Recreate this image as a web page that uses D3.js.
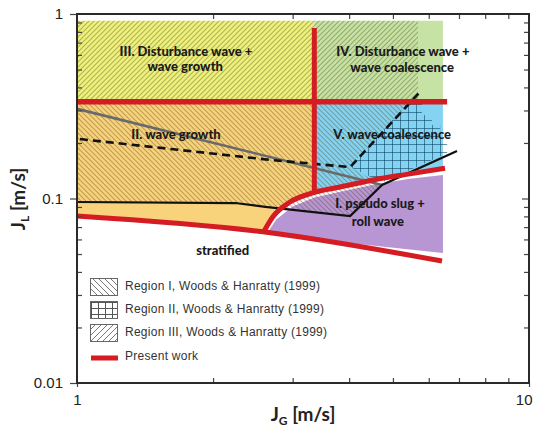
<!DOCTYPE html>
<html><head><meta charset="utf-8">
<script src="https://cdn.jsdelivr.net/npm/d3@7"></script>
<style>body{margin:0;background:#fff}svg{display:block}</style>
</head><body>
<svg id="c" width="535" height="435"></svg>
<script>
// ---- data (JG [m/s], JL [m/s]) ----
const xTicks = [1, 10];
const yTicks = [0.01, 0.1, 1];
const xMinor = [2,3,4,5,6,7,8,9];
const yMinor = [0.02,0.03,0.04,0.05,0.06,0.07,0.08,0.09,0.2,0.3,0.4,0.5,0.6,0.7,0.8,0.9];

const regionYellow = [[1,0.335],[3.35,0.335],[3.35,0.92],[1,0.92]];
const regionGreen  = [[3.35,0.335],[6.45,0.335],[6.45,0.92],[3.35,0.92]];
const regionOrange = [[1,0.335],[3.35,0.335],[3.35,0.107],[3.31,0.107],[2.96,0.0957],[2.71,0.0794],[2.58,0.065],[1,0.0804]];
const regionBlue   = [[3.35,0.335],[6.45,0.335],[6.45,0.145],[5.45,0.136],[4.52,0.126],[3.82,0.1154],[3.35,0.107]];
const regionPurple = [[2.64,0.0655],[2.76,0.077],[3.0,0.0905],[3.35,0.1012],[3.85,0.109],[4.55,0.119],[5.45,0.128],[6.45,0.134],[6.45,0.0507],[2.75,0.0632]];

const hatchI   = [[1,0.335],[5.48,0.335],[4.02,0.148],[4.73,0.1184],[4.02,0.0804],[2.61,0.09],[2.24,0.0945],[1,0.0957]];
const hatchII  = [[4.02,0.148],[5.40,0.329],[5.80,0.329],[5.80,0.2835],[6.10,0.2835],[6.10,0.25],[6.36,0.25],[6.36,0.213],[6.59,0.213],[6.59,0.176],[4.73,0.122]];
const hatchIII = [[1,0.335],[5.68,0.335],[5.68,0.92],[1,0.92]];

const grayLine   = [[1,0.306],[4.73,0.1184]];
const dashedLine = [[1.015,0.21],[2.67,0.162],[4.02,0.148],[5.74,0.378]];
const blackLine  = [[1,0.0957],[2.24,0.0945],[2.61,0.09],[4.02,0.0804],[4.73,0.1184],[6.93,0.181]];

const redHoriz = [[1,0.335],[6.59,0.335]];
const redVert  = [[3.35,0.84],[3.35,0.107]];
const redCurve = [[2.58,0.065],[2.71,0.0794],[2.96,0.0957],[3.31,0.107],[3.82,0.1154],[4.52,0.126],[5.45,0.136],[6.52,0.146]];
const redLower = [[1,0.0804],[2.58,0.066],[6.42,0.0458]];

const labels = [
  {t:"III. Disturbance wave +", x:1.742, y:0.615},
  {t:"wave growth", x:1.735, y:0.51},
  {t:"II. wave growth", x:1.656, y:0.218},
  {t:"IV. Disturbance wave +", x:5.26, y:0.615},
  {t:"wave coalescence", x:5.24, y:0.503},
  {t:"V. wave coalescence", x:4.98, y:0.218},
  {t:"I. pseudo slug +", x:4.68, y:0.0922},
  {t:"roll wave", x:4.63, y:0.0737},
  {t:"stratified", x:2.10, y:0.0513}
];
const legendItems = [
  {t:"Region I, Woods & Hanratty (1999)", p:"lgI", w:195},
  {t:"Region II, Woods & Hanratty (1999)", p:"lgII", w:199},
  {t:"Region III, Woods & Hanratty (1999)", p:"lgIII", w:202},
  {t:"Present work", p:"red", w:73}
];

// ---- drawing ----
const svg = d3.select("#c");
const x = d3.scaleLog().domain([1,10]).range([77,529]);
const y = d3.scaleLog().domain([0.01,1]).range([383,14]);
const line = d3.line().x(d=>x(d[0])).y(d=>y(d[1]));
const poly = pts => line(pts) + "Z";

const defs = svg.append("defs");
function hatch(id, d, size, stroke, sw){
  const p = defs.append("pattern").attr("id",id).attr("patternUnits","userSpaceOnUse")
    .attr("width",size).attr("height",size);
  p.append("path").attr("d",d).attr("stroke",stroke).attr("stroke-width",sw).attr("fill","none");
}
const s=5;
const back = `M0,0L${s},${s}M-1,${s-1}L1,${s+1}M${s-1},-1L${s+1},1`;
const fwd  = `M0,${s}L${s},0M-1,1L1,-1M${s-1},${s+1}L${s+1},${s-1}`;
hatch("hI", back, 5, "rgba(80,65,20,0.36)", 1.15);
hatch("hIII", fwd, 5, "rgba(80,75,20,0.38)", 1.15);
defs.append("pattern").attr("id","hII").attr("patternUnits","userSpaceOnUse").attr("width",8).attr("height",8)
  .append("path").attr("d","M0,0.5H8M0.5,0V8").attr("stroke","rgba(10,70,100,0.6)").attr("stroke-width",1).attr("fill","none");
const l=6;
hatch("lgI", `M0,0L${l},${l}M-1,${l-1}L1,${l+1}M${l-1},-1L${l+1},1`, l, "#777", 1);
hatch("lgIII", `M0,${l}L${l},0M-1,1L1,-1M${l-1},${l+1}L${l+1},${l-1}`, l, "#777", 1);
defs.append("pattern").attr("id","lgII").attr("patternUnits","userSpaceOnUse").attr("width",7).attr("height",6)
  .attr("x",91).attr("y",302)
  .append("path").attr("d","M0,0.5H7M0.5,0V6").attr("stroke","#555").attr("stroke-width",1).attr("fill","none");

const g = svg.append("g");
g.append("path").attr("d",poly(regionYellow)).attr("fill","#eef27c");
g.append("path").attr("d",poly(regionGreen)).attr("fill","#c6e2a4");
g.append("path").attr("d",poly(regionOrange)).attr("fill","#f9d27c");
g.append("path").attr("d",poly(regionBlue)).attr("fill","#84d3f2");
g.append("path").attr("d",poly(regionPurple)).attr("fill","#b896d4");

g.append("path").attr("d",poly(hatchIII)).attr("fill","url(#hIII)");
g.append("path").attr("d",poly(hatchI)).attr("fill","url(#hI)");
g.append("path").attr("d",poly(hatchII)).attr("fill","url(#hII)");

g.append("path").attr("d",line(grayLine)).attr("fill","none").attr("stroke","#6a6a6a").attr("stroke-width",2.6);
g.append("path").attr("d",line(dashedLine)).attr("fill","none").attr("stroke","#111").attr("stroke-width",2.6).attr("stroke-dasharray","8,5");
g.append("path").attr("d",line(blackLine)).attr("fill","none").attr("stroke","#111").attr("stroke-width",2.2);

const red = "#d41c22";
const curveLine = d3.line().x(d=>x(d[0])).y(d=>y(d[1])).curve(d3.curveMonotoneX);
g.append("path").attr("d",line(redHoriz)).attr("fill","none").attr("stroke",red).attr("stroke-width",5.5);
g.append("path").attr("d",line(redVert)).attr("fill","none").attr("stroke",red).attr("stroke-width",5);
g.append("path").attr("d",curveLine(redCurve)).attr("fill","none").attr("stroke",red).attr("stroke-width",5);
g.append("path").attr("d",curveLine(redLower)).attr("fill","none").attr("stroke",red).attr("stroke-width",5);

// labels
svg.append("g").selectAll("text").data(labels).join("text")
  .attr("x",d=>x(d.x)).attr("y",d=>y(d.y)).attr("text-anchor","middle").attr("dominant-baseline","middle")
  .attr("font-family","Lato, 'Liberation Sans', sans-serif").attr("font-weight","900").attr("font-size",13)
  .attr("fill","#1a1a1a").text(d=>d.t);

// legend
const lg = svg.append("g");
legendItems.forEach((d,i)=>{
  const yy = [287,310,333,357][i];
  if(d.p==="red"){
    lg.append("line").attr("x1",91).attr("x2",118).attr("y1",yy+1).attr("y2",yy+1).attr("stroke",red).attr("stroke-width",5);
  } else {
    lg.append("rect").attr("x",90.5).attr("y",yy-8.5).attr("width",27).attr("height",17)
      .attr("fill",`url(#${d.p})`).attr("stroke","#666").attr("stroke-width",1);
  }
  lg.append("text").attr("x",125).attr("y",yy).attr("dominant-baseline","middle")
    .attr("font-family","'Liberation Sans', Arial, sans-serif").attr("font-size",12).attr("fill","#333")
    .attr("textLength",d.w).attr("lengthAdjust","spacing").text(d.t);
});

// axes
const fmtY = d => d===1?"1":(d===0.1?"0.1":"0.01");
const axFont = "'Liberation Sans', Arial, sans-serif";
function style(sel){
  sel.select(".domain").remove();
  sel.selectAll("line").attr("stroke","#444").attr("stroke-width",1.2);
  sel.selectAll("text").attr("font-family",axFont).attr("font-size",15).attr("fill","#222");
}
svg.append("g").attr("transform","translate(77,0)")
  .call(d3.axisLeft(y).tickValues(yTicks).tickFormat(fmtY).tickSize(7).tickPadding(7)).call(style);
svg.append("g").attr("transform","translate(77,0)")
  .call(d3.axisLeft(y).tickValues(yMinor).tickFormat("").tickSize(-5)).call(style);
svg.append("g").attr("transform","translate(529,0)")
  .call(d3.axisRight(y).tickValues(yMinor).tickFormat("").tickSize(-5)).call(style);
svg.append("g").attr("transform","translate(529,0)")
  .call(d3.axisRight(y).tickValues([0.1]).tickFormat("").tickSize(-7)).call(style);
const xa = svg.append("g").attr("transform","translate(0,383)")
  .call(d3.axisBottom(x).tickValues(xTicks).tickFormat(d=>String(d)).tickSize(4).tickPadding(7)).call(style);
xa.selectAll(".tick text").filter(d=>d===10).attr("text-anchor","end").attr("dx","3");
svg.append("g").attr("transform","translate(0,383)")
  .call(d3.axisBottom(x).tickValues(xMinor).tickFormat("").tickSize(-5)).call(style);
svg.append("g").attr("transform","translate(0,14)")
  .call(d3.axisTop(x).tickValues(xMinor).tickFormat("").tickSize(-5)).call(style);

// frame
svg.append("rect").attr("x",77).attr("y",14).attr("width",452).attr("height",369)
  .attr("fill","none").attr("stroke","#2a2a2a").attr("stroke-width",2);

// axis titles
const tf = "Lato, 'Liberation Sans', sans-serif";
const xt = svg.append("text").attr("x",303).attr("y",421).attr("text-anchor","middle")
  .attr("font-family",tf).attr("font-weight","bold").attr("font-size",19).attr("fill","#222");
xt.append("tspan").text("J");
xt.append("tspan").attr("font-size",12).attr("dy",4).text("G");
xt.append("tspan").attr("dy",-4).text(" [m/s]");
const yt = svg.append("text").attr("transform","translate(25,199) rotate(-90)").attr("text-anchor","middle")
  .attr("font-family",tf).attr("font-weight","bold").attr("font-size",19).attr("fill","#222");
yt.append("tspan").text("J");
yt.append("tspan").attr("font-size",12).attr("dy",4).text("L");
yt.append("tspan").attr("dy",-4).text(" [m/s]");
</script>
</body></html>
